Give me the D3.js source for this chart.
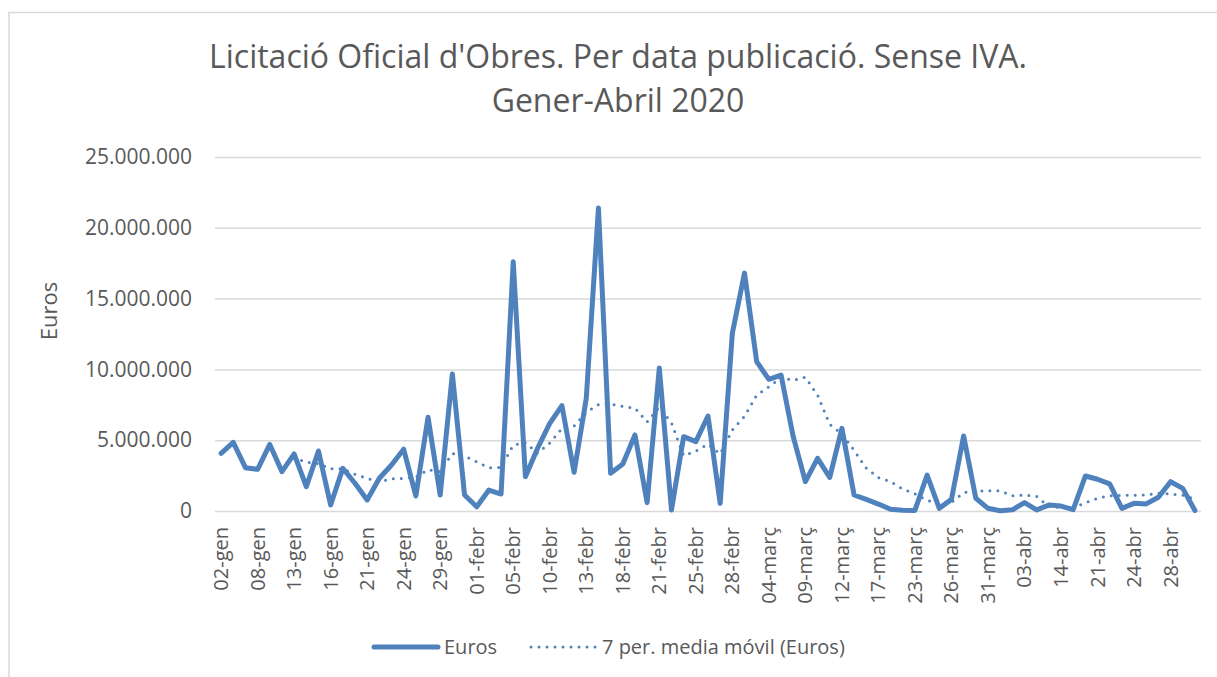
<!DOCTYPE html>
<html>
<head>
<meta charset="utf-8">
<script src="https://cdn.jsdelivr.net/npm/d3@7"></script>
<style>
  body { margin: 0; background: #fff; }
  svg { display: block; font-family: "Open Sans", sans-serif; }
</style>
</head>
<body>
<svg id="chart" width="1217" height="677"></svg>
<script>
// Publication dates (one every third is shown on the axis)
const dates = [
  "02-gen", "03-gen", "07-gen", "08-gen", "09-gen", "10-gen", "13-gen", "14-gen", "15-gen",
  "16-gen", "17-gen", "20-gen", "21-gen", "22-gen", "23-gen", "24-gen", "27-gen", "28-gen",
  "29-gen", "30-gen", "31-gen", "01-febr", "03-febr", "04-febr", "05-febr", "06-febr", "07-febr",
  "10-febr", "11-febr", "12-febr", "13-febr", "14-febr", "17-febr", "18-febr", "19-febr", "20-febr",
  "21-febr", "22-febr", "24-febr", "25-febr", "26-febr", "27-febr", "28-febr", "02-març", "03-març",
  "04-març", "05-març", "06-març", "09-març", "10-març", "11-març", "12-març", "13-març", "16-març",
  "17-març", "18-març", "20-març", "23-març", "24-març", "25-març", "26-març", "27-març", "30-març",
  "31-març", "01-abr", "02-abr", "03-abr", "06-abr", "08-abr", "14-abr", "15-abr", "17-abr",
  "21-abr", "22-abr", "23-abr", "24-abr", "25-abr", "27-abr", "28-abr", "29-abr", "30-abr"
];

// Euros per publication date
const euros = [
  4070000, 4850000, 3060000, 2940000, 4700000, 2780000, 4030000, 1720000, 4240000,
  420000, 3010000, 1960000, 780000, 2310000, 3250000, 4360000, 1060000, 6620000,
  1130000, 9670000, 1130000, 300000, 1480000, 1200000, 17600000, 2420000, 4430000,
  6190000, 7440000, 2730000, 7960000, 21400000, 2660000, 3320000, 5370000, 590000,
  10100000, 70000, 5250000, 4900000, 6710000, 540000, 12550000, 16800000, 10550000,
  9300000, 9600000, 5250000, 2070000, 3720000, 2380000, 5840000, 1130000, 820000,
  490000, 120000, 50000, 40000, 2540000, 190000, 820000, 5300000, 900000,
  190000, 20000, 80000, 590000, 80000, 420000, 350000, 100000, 2470000,
  2240000, 1910000, 190000, 540000, 500000, 970000, 2070000, 1600000, 30000
];

const yTicks = [0, 5000000, 10000000, 15000000, 20000000, 25000000];
const titleLines = ["Licitació Oficial d'Obres. Per data publicació. Sense IVA.", "Gener-Abril 2020"];

const BLUE = "#4f81bd";
const GRID = "#d9d9d9";
const TEXT = "#595959";

const svg = d3.select("#chart");

// outer chart frame (only top and left edges fall inside the window)
svg.append("rect")
  .attr("x", 9).attr("y", 12.5)
  .attr("width", 1230).attr("height", 700)
  .attr("fill", "none").attr("stroke", GRID).attr("stroke-width", 1.5);

const plot = { left: 215, right: 1201, top: 157, bottom: 511 };

const x = d3.scaleBand().domain(dates).range([plot.left, plot.right]);
const cx = (d) => x(d) + x.bandwidth() / 2;
const y = d3.scaleLinear().domain([0, 25000000]).range([plot.bottom, plot.top]);

// title
svg.append("text")
  .attr("text-anchor", "middle")
  .attr("fill", TEXT)
  .attr("font-size", 32)
  .selectAll("tspan")
  .data(titleLines)
  .join("tspan")
  .attr("x", 618)
  .attr("y", (d, i) => 68 + i * 44)
  .text((d) => d);

// gridlines + y labels
const yAxis = d3.axisLeft(y)
  .tickValues(yTicks)
  .tickSize(-(plot.right - plot.left))
  .tickPadding(23)
  .tickFormat((d) => d3.format(",")(d).replace(/,/g, "."));

const gy = svg.append("g")
  .attr("transform", `translate(${plot.left},0)`)
  .call(yAxis);
gy.select(".domain").remove();
gy.selectAll(".tick line").attr("stroke", GRID).attr("stroke-width", 1.5);
gy.selectAll(".tick text")
  .attr("fill", TEXT)
  .attr("font-size", 21)
  .attr("font-family", "'Open Sans', sans-serif");

// x labels, every third category
const xAxis = d3.axisBottom(x)
  .tickValues(dates.filter((d, i) => i % 3 === 0))
  .tickSize(0)
  .tickPadding(0);

const gx = svg.append("g")
  .attr("transform", `translate(0,${plot.bottom})`)
  .call(xAxis);
gx.select(".domain").remove();
gx.selectAll(".tick text")
  .attr("transform", "rotate(-90)")
  .attr("text-anchor", "end")
  .attr("x", -16)
  .attr("y", 0)
  .attr("dy", "0.35em")
  .attr("fill", TEXT)
  .attr("font-size", 20)
  .attr("font-family", "'Open Sans', sans-serif");

// y axis title
svg.append("text")
  .attr("transform", "translate(57,311) rotate(-90)")
  .attr("text-anchor", "middle")
  .attr("fill", TEXT)
  .attr("font-size", 22)
  .text("Euros");

// 7 period moving average trendline
const movAvg = euros.map((v, i) =>
  i < 6 ? null : d3.mean(euros.slice(i - 6, i + 1))
);

const line = d3.line()
  .defined((d) => d !== null)
  .x((d, i) => cx(dates[i]))
  .y((d) => y(d));

svg.append("path")
  .datum(movAvg)
  .attr("fill", "none")
  .attr("stroke", BLUE)
  .attr("stroke-width", 3)
  .attr("stroke-linecap", "round")
  .attr("stroke-dasharray", "0,8")
  .attr("d", line);

svg.append("path")
  .datum(euros)
  .attr("fill", "none")
  .attr("stroke", BLUE)
  .attr("stroke-width", 5)
  .attr("stroke-linejoin", "round")
  .attr("stroke-linecap", "round")
  .attr("d", line);

// legend
const legend = svg.append("g").attr("font-size", 20).attr("fill", TEXT);
legend.append("line")
  .attr("x1", 374).attr("x2", 438).attr("y1", 647).attr("y2", 647)
  .attr("stroke", BLUE).attr("stroke-width", 5).attr("stroke-linecap", "round");
legend.append("text").attr("x", 444).attr("y", 654).text("Euros");
legend.append("line")
  .attr("x1", 531).attr("x2", 597).attr("y1", 647).attr("y2", 647)
  .attr("stroke", BLUE).attr("stroke-width", 3).attr("stroke-linecap", "round")
  .attr("stroke-dasharray", "0,8");
legend.append("text").attr("x", 602).attr("y", 654).text("7 per. media móvil (Euros)");
</script>
</body>
</html>
